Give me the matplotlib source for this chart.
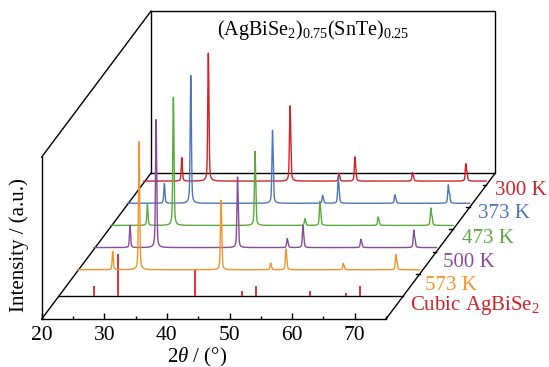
import numpy as np
import matplotlib
matplotlib.use("Agg")
import matplotlib.pyplot as plt
from matplotlib.ticker import MultipleLocator

plt.rcParams['font.family'] = ['Liberation Serif', 'DejaVu Serif']
plt.rcParams['mathtext.fontset'] = 'custom'
plt.rcParams['mathtext.rm'] = 'Liberation Serif'
plt.rcParams['mathtext.it'] = 'Liberation Serif:italic'

# series, back to front
temps = ['300 K', '373 K', '473 K', '500 K', '573 K']
colors = ['#d2232a', '#4e76bd', '#5aaa3c', '#8a4a9c', '#f49328']
depths = [0.918, 0.766, 0.614, 0.462, 0.310]

# peak positions (2theta, deg) and relative heights
peaks_300 = [26.34, 30.58, 43.63, 51.45, 54.00, 63.20, 71.72]
peaks_373 = [26.21, 30.42, 43.48, 51.50, 53.99, 63.04, 71.58]
peaks_473 = [26.15, 30.30, 43.34, 51.32, 53.72, 63.02, 71.44]
peaks_500 = [26.03, 30.19, 43.20, 51.15, 53.65, 62.91, 71.37]
peaks_573 = [25.92, 30.12, 43.21, 51.15, 53.59, 62.74, 71.15]

rel_300 = [18, 100, 64, 7, 22, 8, 17]
rel_373 = [15, 100, 62, 7, 24, 8, 18]
rel_473 = [16, 100, 63, 6, 22, 8, 17]
rel_500 = [17, 100, 60, 8, 20, 8, 17]
rel_573 = [14, 100, 59, 6, 19, 6, 15]

# reference sticks, cubic AgBiSe2
ref_pos = [25.64, 29.47, 41.70, 49.20, 51.45, 60.07, 65.90, 68.05]
ref_rel = [24, 100, 64, 12, 24, 12, 7, 24]
ref_depth = 0.158

labels_all = temps + ['Cubic AgBiSe$_2$']
label_colors = colors + ['#d2232a']
label_px = [(495, 195), (478, 218), (462, 243), (443, 267), (425, 290), (410, 310)]

# box geometry (front plane in data units, depth shift at d=1)
X0, X1 = 20, 75
Y0, Y1 = 0, 100
DX, DY = 17.45, 90.0
peak_scale = 0.79
stick_scale = 0.26
bg = 2.5


def pattern(tt, pos, rel, fwhm=0.2, eta=0.5):
    y = np.zeros_like(tt)
    for p, h in zip(pos, rel):
        for shift, frac in ((0.0, 1.0), (0.0025 * np.tan(np.radians(p / 2)) * 114.6, 0.45)):
            x = (tt - p - shift) / (fwhm / 2)
            y += h * frac * (eta / (1 + x ** 2) + (1 - eta) * np.exp(-np.log(2) * x ** 2))
    return y / y.max() * max(rel)


W, H = 549, 367
fig = plt.figure(figsize=(W / 100, H / 100), dpi=100)
ax = fig.add_axes([41.7 / W, 48 / H, 344.3 / W, 162 / H])
ax.set_xlim(X0, X1)
ax.set_ylim(Y0, Y1)
for s in ['top', 'right']:
    ax.spines[s].set_visible(False)
for s in ['left', 'bottom']:
    ax.spines[s].set_linewidth(1.0)
ax.set_yticks([])
ax.xaxis.set_major_locator(MultipleLocator(10))
ax.xaxis.set_minor_locator(MultipleLocator(5))
ax.tick_params(axis='x', which='major', direction='in', length=4, width=1, labelsize=15.5, pad=5)
ax.tick_params(axis='x', which='minor', direction='in', length=2.5, width=1)
ax.set_facecolor('none')

kw = dict(color='black', lw=1.0, clip_on=False, zorder=1)
# oblique box
ax.plot([X0, X0 + DX], [Y0, Y0 + DY], **kw)
ax.plot([X0, X0 + DX], [Y1, Y1 + DY], **kw)
ax.plot([X1, X1 + DX], [Y0, Y0 + DY], **kw)
ax.plot([X0 + DX, X1 + DX, X1 + DX, X0 + DX, X0 + DX],
        [Y0 + DY, Y0 + DY, Y1 + DY, Y1 + DY, Y0 + DY], **kw)

# depth ticks on right diagonal
for d in depths:
    ax.plot([X1 + d * DX - 0.6, X1 + d * DX], [d * DY, d * DY], **kw)

# reference sticks
ax.plot([X0 + ref_depth * DX, X1 + ref_depth * DX], [ref_depth * DY] * 2, **kw)
ax.vlines(np.array(ref_pos) + ref_depth * DX, ref_depth * DY,
          ref_depth * DY + np.array(ref_rel) * stick_scale,
          color='#e0202a', lw=1.3, clip_on=False, zorder=2)

tt = np.arange(20.3, 75.0, 0.01)
all_peaks = [peaks_300, peaks_373, peaks_473, peaks_500, peaks_573]
all_rel = [rel_300, rel_373, rel_473, rel_500, rel_573]
for i, (pos, rel, d, c) in enumerate(zip(all_peaks, all_rel, depths, colors)):
    inten = pattern(tt, pos, rel) * peak_scale + bg
    ax.plot(tt + d * DX, inten + d * DY, color=c, lw=1.0, clip_on=False, zorder=3 + i)

for lab, c, (px, py) in zip(labels_all, label_colors, label_px):
    fig.text(px / W, 1 - py / H, lab, color=c, fontsize=15, ha='left', va='baseline')

fig.text(313 / W, 1 - 30 / H, r'$\mathrm{(AgBiSe_2)_{0.75}(SnTe)_{0.25}}$',
         fontsize=14.5, ha='center', va='center')
fig.text(197 / W, 1 - 357 / H, r'2$\theta$ / (°)', fontsize=15, ha='center', va='center')
fig.text(19 / W, 1 - 245 / H, 'Intensity / (a.u.)', fontsize=15, ha='center', va='center',
         rotation=90)

fig.savefig('out.png', dpi=100)
